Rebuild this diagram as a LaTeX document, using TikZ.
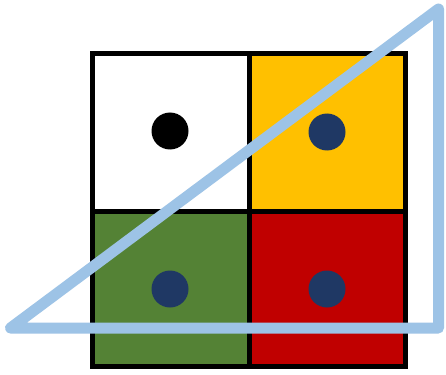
\documentclass[tikz,border=0pt]{standalone}
\definecolor{gold}{HTML}{FFC000}
\definecolor{grn}{HTML}{548235}
\definecolor{rd}{HTML}{C00000}
\definecolor{navy}{HTML}{1F3864}
\definecolor{lblue}{HTML}{9DC3E6}
\begin{document}
\begin{tikzpicture}[x=1pt,y=-1pt,
  cell/.style={draw=black,line width=5pt},
  dot/.style={circle,minimum size=37pt,inner sep=0pt}]
\useasboundingbox (0,0) rectangle (446,374);
\fill[white] (0,0) rectangle (446,374);
\filldraw[cell,fill=white] (92,54) rectangle (249,211);
\filldraw[cell,fill=gold] (249,54) rectangle (405.5,211);
\filldraw[cell,fill=grn] (92,211) rectangle (249,366);
\filldraw[cell,fill=rd] (249,211) rectangle (405.5,366);
\node[dot,fill=black] (d1) at (170,131) {};
\node[dot,fill=navy] (d2) at (327,132) {};
\node[dot,fill=navy] (d3) at (170,289) {};
\node[dot,fill=navy] (d4) at (327,289) {};
\coordinate (t1) at (10.5,328);
\coordinate (t2) at (438.5,328);
\coordinate (t3) at (438.5,9);
\draw[lblue,line width=11pt,line join=round] (t1) -- (t2) -- (t3) -- cycle;
\end{tikzpicture}
\end{document}
